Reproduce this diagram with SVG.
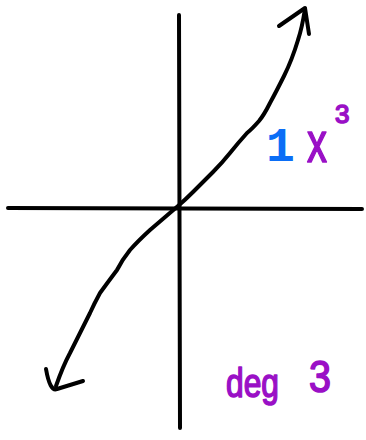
<svg xmlns="http://www.w3.org/2000/svg" width="366" height="440" viewBox="0 0 366 440">
<style>
.ink{fill:none;stroke:#000;stroke-width:4;stroke-linecap:round;stroke-linejoin:round}
.lbl{font-family:"Liberation Sans","DejaVu Sans",sans-serif}
.purple{fill:#9a10c6;stroke:#9a10c6;stroke-width:1.6;stroke-linejoin:round}
.blue{fill:#0b6ef6}
</style>
<rect width="366" height="440" fill="#fff"/>
<g id="axes">
<path class="ink" d="M179 15 L180 428"/>
<path class="ink" d="M8 208 L362 209"/>
</g>
<g id="curve">
<path class="ink" d="M305 9 Q302 28 298 40 Q292 60 284 76 Q276 92 270 103 Q264 115 259 121 Q252 129 247 133 Q238 143 230 153 Q222 163 213 172 Q203 182 193 192 Q185 200 178 206 Q164 218 150 230 Q138 241 130 250 Q122 260 117 270 Q108 282 100 293 Q94 304 90 313 Q85 323 80 333 Q75 343 70 353 Q63 366 56 386"/>
<path class="ink" d="M279 26 L305 8 L309 34"/>
<path class="ink" d="M46 369 Q50 392 57 389 L83 381"/>
</g>
<g id="labels">
<text class="blue" x="266" y="161" font-size="48" font-weight="bold" font-family="'Liberation Mono','DejaVu Sans Mono',monospace">1</text>
<text class="lbl purple" x="307" y="162" font-size="58" textLength="20" lengthAdjust="spacingAndGlyphs">x</text>
<text class="lbl purple" x="335" y="123" font-size="26">3</text>
<text class="lbl purple" x="226" y="397" font-size="41" textLength="53" lengthAdjust="spacingAndGlyphs">deg</text>
<text class="lbl purple" x="309" y="392" font-size="44" textLength="22" lengthAdjust="spacingAndGlyphs">3</text>
</g>
</svg>
